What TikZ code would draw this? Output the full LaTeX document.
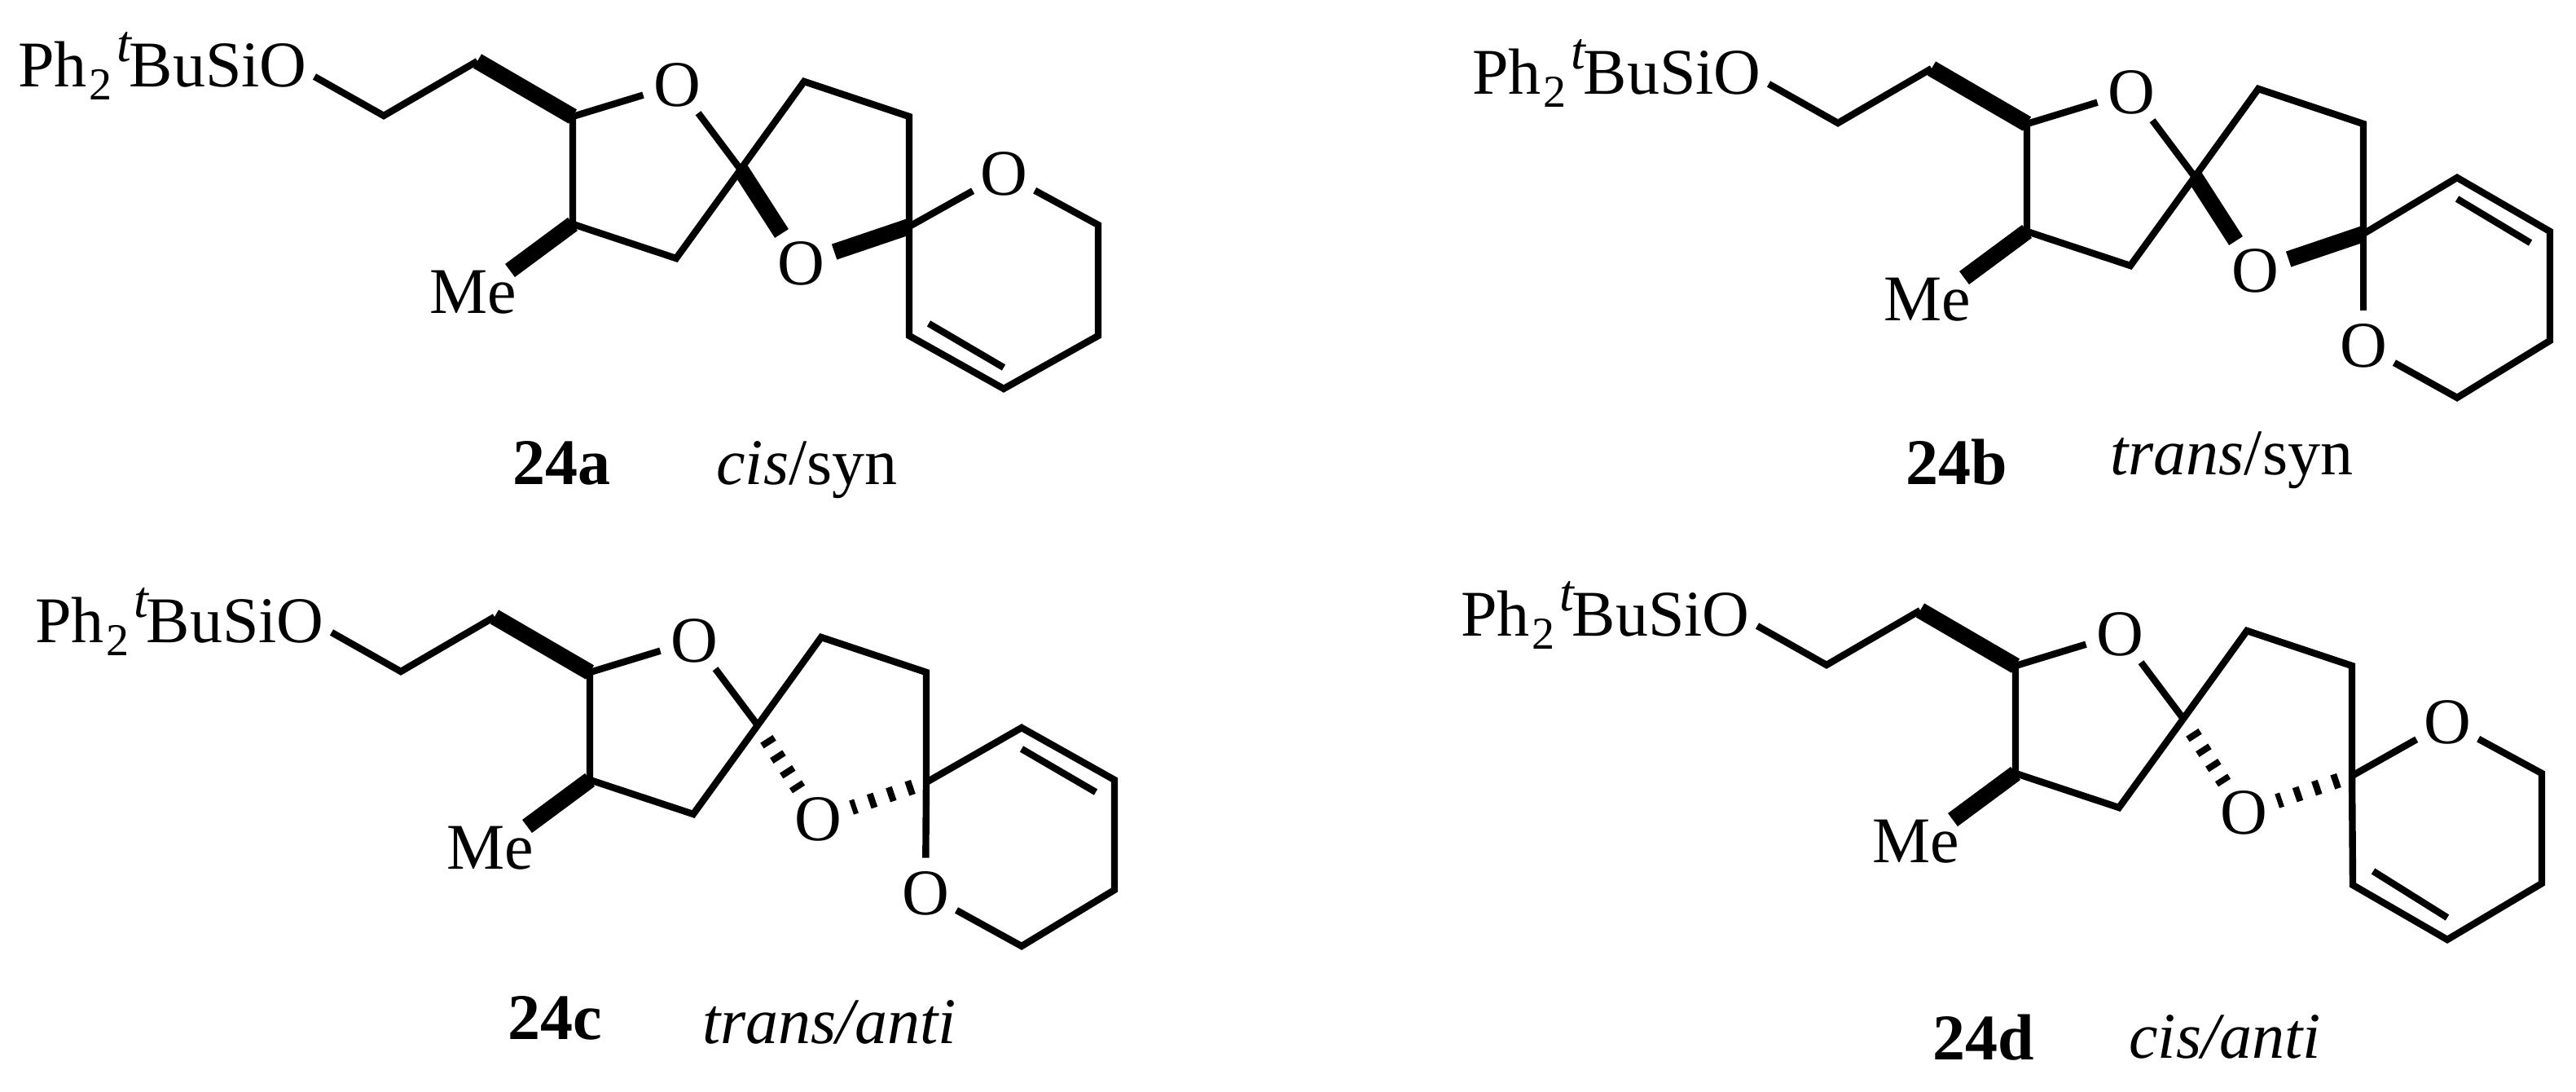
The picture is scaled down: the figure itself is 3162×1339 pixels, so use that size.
\documentclass[tikz,border=0pt]{standalone}
\usepackage{fontspec}
\setmainfont{Liberation Serif}
\tikzset{
  bond/.style={line width=4.2pt,line join=miter,line cap=butt},
  inner/.style={line width=4.2pt,line cap=butt},
  boldbond/.style={line width=10pt,line cap=butt},
  hashA/.style={line width=9pt,line cap=butt,dash pattern=on 4pt off 7pt,shorten <=10pt},
  hashB/.style={line width=9pt,line cap=butt,dash pattern=on 4pt off 8.3pt,shorten <=8.5pt},
  atom/.style={circle,inner sep=0pt,minimum size=43pt,font=\fontsize{40pt}{48pt}\selectfont},
  txt/.style={inner sep=0pt,anchor=base west,font=\fontsize{40pt}{48pt}\selectfont}
}
\newcommand{\silylgroup}{Ph\hspace{1.5pt}\raisebox{-8pt}{\fontsize{28pt}{28pt}\selectfont 2}\hspace{3pt}\raisebox{15.5pt}{\fontsize{32pt}{32pt}\selectfont\itshape t}\hspace{-1.5pt}BuSiO}
% #1 prefix, #2 dx, #3 dy, #4 style of spiro C-O, #5 style of second C-O
\newcommand{\leftpart}[5]{%
  \begin{scope}[shift={(#2,#3)}]
    \node[txt] (#1sil) at (22,106) {\silylgroup};
    \coordinate (#1ob) at (386,94);
    \coordinate (#1c1) at (471,142);
    \coordinate (#1c2) at (586,75);
    \coordinate (#1c3) at (703,143);
    \node[atom] (#1o1) at (831,104) {O};
    \coordinate (#1c4) at (703,275);
    \coordinate (#1c5) at (830,317);
    \coordinate (#1mb) at (626,332);
    \node[txt] (#1me) at (527,384) {Me};
    \coordinate (#1c6) at (909,208);
    \coordinate (#1c12) at (987,100);
    \coordinate (#1c13) at (1116,143);
    \coordinate (#1c7) at (1116,278);
    \node[atom] (#1o2) at (983,323) {O};
    \draw[bond] (#1ob) -- (#1c1) -- (#1c2);
    \draw[boldbond] (#1c2) -- (#1c3);
    \draw[bond] (#1c3) -- (#1o1);
    \draw[bond] (#1o1) -- (#1c6);
    \draw[bond] (#1c3) -- (#1c4) -- (#1c5) -- (#1c6) -- (#1c12) -- (#1c13) -- (#1c7);
    \draw[boldbond] (#1c4) -- (#1mb);
    \draw[#4] (#1c6) -- (#1o2);
    \draw[#5] (#1c7) -- (#1o2);
  \end{scope}
}
\begin{document}
\begin{tikzpicture}[x=.5pt,y=-.5pt]
\useasboundingbox (0,0) rectangle (3162,1339);
% 24a
\leftpart{a}{0}{0}{boldbond}{boldbond}
\coordinate (a8) at (1116,412);
\coordinate (a9) at (1232,477);
\coordinate (a10) at (1348,412);
\coordinate (a11) at (1348,276);
\node[atom] (ao3) at (1232,213) {O};
\coordinate (ad1) at (1140,397);
\coordinate (ad2) at (1232,451);
\draw[bond] (ac7) -- (a8) -- (a9) -- (a10) -- (a11) -- (ao3);
\draw[bond] (ao3) -- (ac7);
\draw[inner] (ad1) -- (ad2);
\node[txt] (alab) at (629,594) {\bfseries 24a};
\node[txt] (asub) at (879,594) {\textit{cis}/syn};
% 24b
\leftpart{b}{1785}{9}{boldbond}{boldbond}
\coordinate (b8) at (3016,218);
\coordinate (b9) at (3130,284);
\coordinate (b10) at (3130,418);
\coordinate (b11) at (3016,488);
\node[atom] (bo3) at (2901,424) {O};
\coordinate (bd1) at (3016,244);
\coordinate (bd2) at (3106,298);
\draw[bond] (bc7) -- (b8) -- (b9) -- (b10) -- (b11) -- (bo3);
\draw[bond] (bc7) -- (bo3);
\draw[inner] (bd1) -- (bd2);
\node[txt] (blab) at (2339,594) {\bfseries 24b};
\node[txt] (bsub) at (2590,582) {\textit{trans}/syn};
% 24c
\leftpart{c}{21}{682}{hashA}{hashB}
\coordinate (c8) at (1254,893);
\coordinate (c9) at (1368,957);
\coordinate (c10) at (1368,1092);
\coordinate (c11) at (1254,1161);
\node[atom] (co3) at (1136,1096) {O};
\coordinate (cd1) at (1254,919);
\coordinate (cd2) at (1345,972);
\draw[bond] (cc7) -- (c8) -- (c9) -- (c10) -- (c11) -- (co3);
\draw[bond] (cc7) -- (co3);
\draw[inner] (cd1) -- (cd2);
\node[txt] (clab) at (623,1275) {\bfseries 24c};
\node[txt] (csub) at (862,1280) {\textit{trans/anti}};
% 24d
\leftpart{d}{1771}{674}{hashA}{hashB}
\coordinate (d8) at (2888,1086);
\coordinate (d9) at (3004,1153);
\coordinate (d10) at (3120,1084);
\coordinate (d11) at (3120,949);
\node[atom] (do3) at (3004,886) {O};
\coordinate (dd1) at (2913,1069);
\coordinate (dd2) at (3004,1126);
\draw[bond] (dc7) -- (d8) -- (d9) -- (d10) -- (d11) -- (do3);
\draw[bond] (do3) -- (dc7);
\draw[inner] (dd1) -- (dd2);
\node[txt] (dlab) at (2372,1300) {\bfseries 24d};
\node[txt] (dsub) at (2613,1298) {\textit{cis/anti}};
\end{tikzpicture}
\end{document}
